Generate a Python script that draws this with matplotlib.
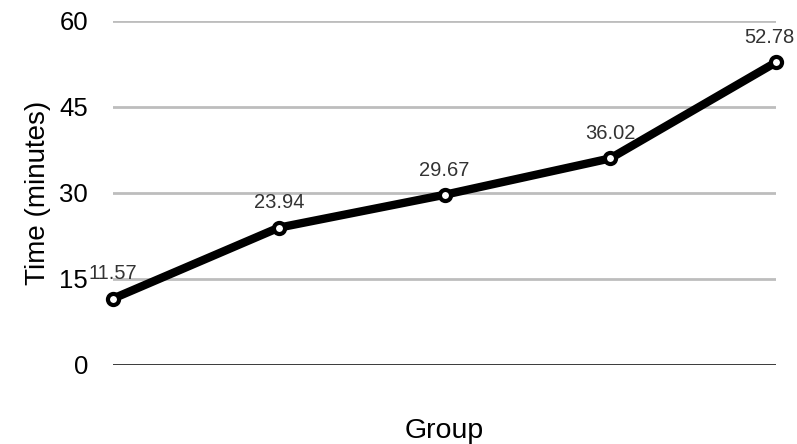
import matplotlib
matplotlib.use("Agg")
import matplotlib.pyplot as plt

plt.rcParams['font.family'] = ['Liberation Sans', 'DejaVu Sans']

groups = [1, 2, 3, 4, 5]
times = [11.57, 23.94, 29.67, 36.02, 52.78]
yticks = [0, 15, 30, 45, 60]

fig = plt.figure(figsize=(7.97, 4.44), dpi=100)
ax = fig.add_axes([0.1418, 0.178, 0.8319, 0.775])

for t in yticks[1:]:
    ax.axhline(t, color='#bdbdbd', lw=2, zorder=1)
ax.axhline(0, color='black', lw=1.8, zorder=1)

xs = list(range(len(groups)))
ax.plot(xs, times, color='black', lw=6, marker='o', markersize=8,
        markerfacecolor='white', markeredgecolor='black', markeredgewidth=3,
        clip_on=False, zorder=3)

for i, (x, t) in enumerate(zip(xs, times)):
    dx = -5 if i == len(xs) - 1 else 0  # keep last label inside the figure
    ax.annotate(f"{t:.2f}", (x, t), xytext=(dx, 11), textcoords='offset points',
                ha='center', va='bottom', fontsize=14.5, color='#333333')

ax.set_xlim(0, 4)
ax.set_ylim(0, 60)
ax.set_yticks(yticks)
ax.set_xticks([])
ax.tick_params(axis='y', length=0, pad=18, labelsize=18.5)
for s in ax.spines.values():
    s.set_visible(False)

ax.set_ylabel('Time (minutes)', fontsize=20, labelpad=6)
ax.set_xlabel('Group', fontsize=20.5, labelpad=38)

fig.savefig('out.png', dpi=100)
